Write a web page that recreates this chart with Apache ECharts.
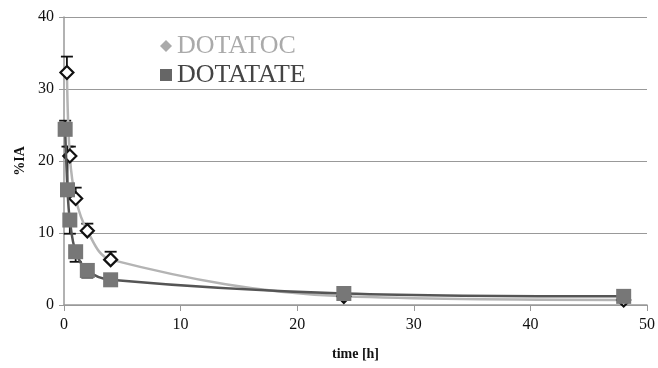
<!DOCTYPE html>
<html>
<head>
<meta charset="utf-8">
<script src="https://cdn.jsdelivr.net/npm/echarts@6/dist/echarts.min.js"></script>
<style>
  html, body { margin: 0; padding: 0; background: #fff; }
  #main { width: 658px; height: 368px; }
</style>
</head>
<body>
<div id="main"></div>
<script>
// time points [h] and %IA values
var tocTime = [0.25, 0.5, 1, 2, 4, 24, 48];
var tocValue = [32.3, 20.7, 14.8, 10.3, 6.3, 1.2, 0.7];
var tocErrHigh = [34.5, 22.0, 16.3, 11.3, 7.4, 1.6, 1.0];

var tateTime = [0.1, 0.3, 0.5, 1, 2, 4, 24, 48];
var tateValue = [24.4, 16.0, 11.8, 7.4, 4.8, 3.5, 1.6, 1.2];
var tateErrLow = [25.6, 22.0, 9.9, 6.0, 3.8, 3.2, 1.3, 1.0];

var xTicks = [0, 10, 20, 30, 40, 50];
var yTicks = [0, 10, 20, 30, 40];

function pairs(xs, ys) {
  return xs.map(function (x, i) { return [x, ys[i]]; });
}
function errPairs(xs, ys, es) {
  return xs.map(function (x, i) { return [x, ys[i], es[i]]; });
}

// error bar: vertical line from the value to the bound, with a cap
function errBar(params, api) {
  var p0 = api.coord([api.value(0), api.value(1)]);
  var p1 = api.coord([api.value(0), api.value(2)]);
  var w = 6;
  var st = { stroke: '#111', lineWidth: 1.8 };
  return {
    type: 'group',
    children: [
      { type: 'line', shape: { x1: p0[0], y1: p0[1], x2: p1[0], y2: p1[1] }, style: st },
      { type: 'line', shape: { x1: p1[0] - w, y1: p1[1], x2: p1[0] + w, y2: p1[1] }, style: st }
    ]
  };
}

var serif = '"Liberation Serif", "DejaVu Serif", serif';
var myChart = echarts.init(document.getElementById('main'));
myChart.setOption({
  animation: false,
  backgroundColor: '#fff',
  grid: { left: 64, right: 9, top: 17, bottom: 63 },
  legend: {
    left: 155, top: 28, orient: 'vertical', itemGap: 3,
    itemWidth: 12, itemHeight: 12,
    data: [
      { name: 'DOTATOC', icon: 'diamond', textStyle: { color: '#aaa' }, itemStyle: { color: '#aaa', borderWidth: 0 } },
      { name: 'DOTATATE', icon: 'rect', textStyle: { color: '#444' }, itemStyle: { color: '#666', borderWidth: 0 } }
    ],
    textStyle: { fontFamily: serif, fontSize: 26 }
  },
  xAxis: {
    type: 'value', min: 0, max: 50, interval: 10,
    name: 'time [h]', nameLocation: 'middle', nameGap: 42,
    nameTextStyle: { fontFamily: serif, fontSize: 14, fontWeight: 'bold', color: '#111' },
    axisLine: { lineStyle: { color: '#999', width: 1.5 } },
    axisTick: { show: true, length: 6, lineStyle: { color: '#999' } },
    axisLabel: { fontFamily: serif, fontSize: 16, color: '#111', margin: 12 },
    splitLine: { show: false }
  },
  yAxis: {
    type: 'value', min: 0, max: 40, interval: 10,
    name: '%IA', nameLocation: 'middle', nameGap: 37,
    nameTextStyle: { fontFamily: serif, fontSize: 14, fontWeight: 'bold', color: '#111' },
    axisLine: { show: true, lineStyle: { color: '#999', width: 1.5 } },
    axisTick: { show: true, length: 5, lineStyle: { color: '#999' } },
    axisLabel: { fontFamily: serif, fontSize: 16, color: '#111', margin: 10 },
    splitLine: { lineStyle: { color: '#999', width: 1.2 } }
  },
  series: [
    {
      name: 'DOTATOC', type: 'line', smooth: 0.35, z: 2,
      data: pairs(tocTime, tocValue),
      symbol: 'diamond', symbolSize: 13,
      lineStyle: { color: '#b4b4b4', width: 2.5 },
      itemStyle: { color: '#fff', borderColor: '#111', borderWidth: 2.2 }
    },
    {
      name: 'DOTATATE', type: 'line', smooth: 0.35, z: 3,
      data: pairs(tateTime, tateValue),
      symbol: 'rect', symbolSize: 15,
      lineStyle: { color: '#555', width: 2.5 },
      itemStyle: { color: '#777', borderColor: '#777', borderWidth: 0 }
    },
    {
      name: 'tocErr', type: 'custom', z: 1, renderItem: errBar,
      data: errPairs(tocTime, tocValue, tocErrHigh),
      encode: { x: 0, y: [1, 2] }, silent: true
    },
    {
      name: 'tateErr', type: 'custom', z: 1, renderItem: errBar,
      data: errPairs(tateTime, tateValue, tateErrLow),
      encode: { x: 0, y: [1, 2] }, silent: true
    }
  ]
});
</script>
</body>
</html>
